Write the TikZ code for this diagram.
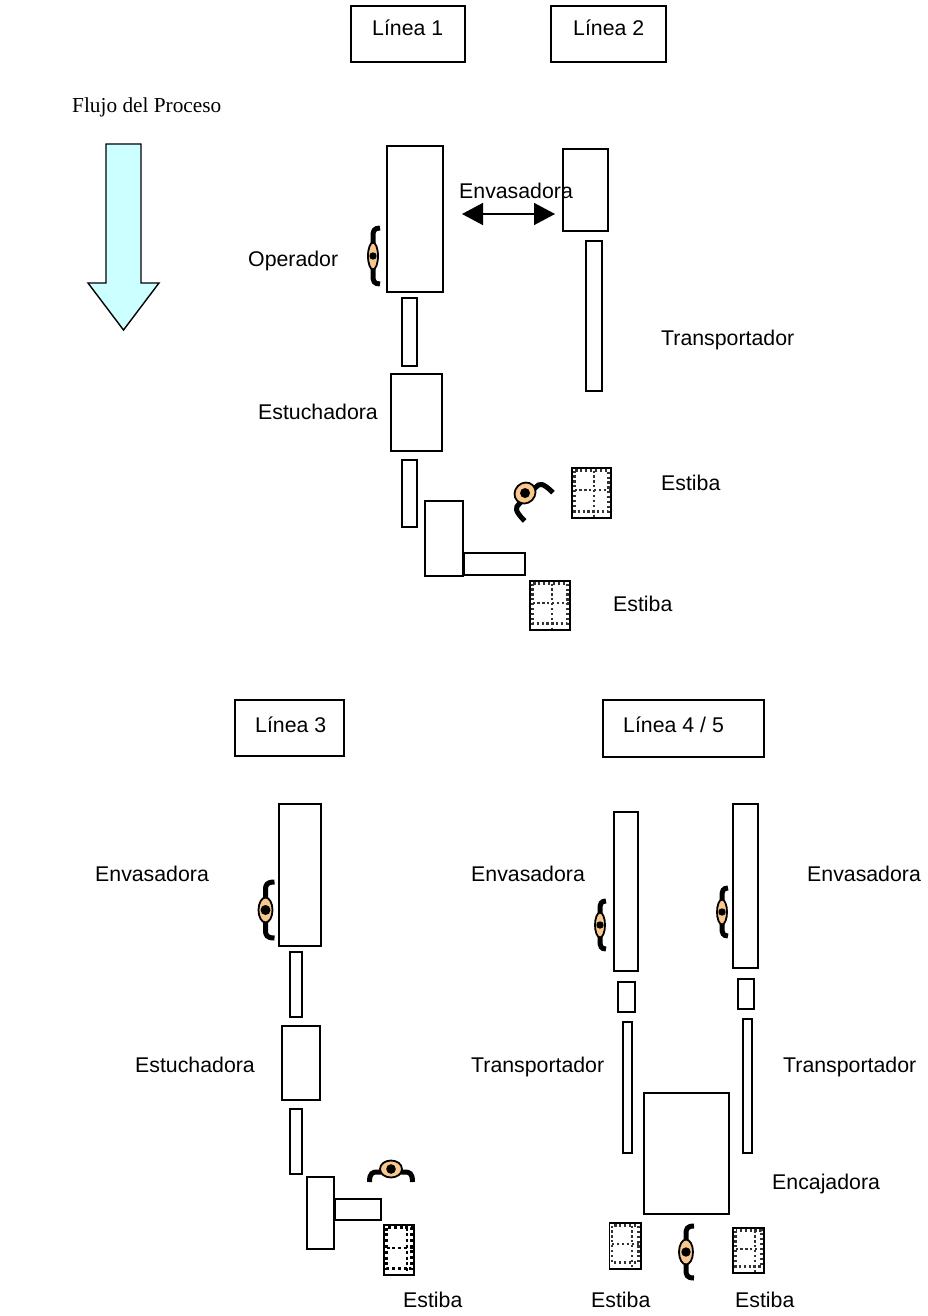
\documentclass[tikz,border=0pt]{standalone}
\usepackage{fontspec}
\setmainfont{Liberation Sans}
\newfontfamily\timesf{Liberation Serif}
\usetikzlibrary{arrows.meta,calc}
\definecolor{peach}{HTML}{F9C88F}
\definecolor{flowc}{HTML}{CCFFFF}
\tikzset{
  x=1pt,y=-1pt,
  lbl/.style={anchor=base west,inner sep=0pt,font=\fontsize{21.3}{25}\selectfont},
  boxn/.style={draw=black,line width=1.7pt,fill=white,inner sep=0pt,outer sep=0pt},
  dots/.style={draw=black!80,line width=2.2pt,dash pattern=on 2.2pt off 2.7pt},
  hardots/.style={draw=black,line width=2.8pt,dash pattern=on 3pt off 2.8pt},
  brace/.style={draw=black,line width=5pt,line cap=butt,fill=none},
}
% \bx{name}{x1}{y1}{x2}{y2}
\newcommand{\bx}[5]{\node[boxn,minimum width=#4pt-#2pt,minimum height=#5pt-#3pt] (#1) at ({(#2+#4)/2},{(#3+#5)/2}) {};}
% \estiba{name}{x1}{y1}{x2}{y2}{vx}{hy}{style}
\newcommand{\estiba}[8]{%
  \bx{#1}{#2}{#3}{#4}{#5}
  \draw[#8] ({#2+2.5},{#3+2.5}) rectangle ({#4-2.5},{#5-6.5});
  \draw[#8] (#6,{#3+2.5}) -- (#6,{#5-1});
  \draw[#8] ({#2+2.5},#7) -- ({#4-1.5},#7);
}
% \opr{x}{y}{rot}{eye half width}{eye half height}{brace half}{end depth}{eye offset}{pupil radius}
\newcommand{\opr}[9]{%
  \begin{scope}[shift={(#1,#2)},rotate=#3]
    \draw[brace] (#7,-#6) .. controls (1,-#6) and (0,{-#6+3}) .. (0,{-#6+8}) -- (0,0);
    \draw[brace] (#7,#6) .. controls (1,#6) and (0,{#6-3}) .. (0,{#6-8}) -- (0,0);
    \draw[draw=black,line width=1.8pt,fill=peach] (#8,0) ellipse [x radius=#4,y radius=#5];
    \fill[black] (#8,0) circle (#9);
  \end{scope}}
\begin{document}
\begin{tikzpicture}
\useasboundingbox (0,0) rectangle (928,1316);
\fill[white] (0,0) rectangle (928,1316);

% Flow arrow
\draw[black,line width=1.4pt,line join=miter,fill=flowc]
  (106,144) -- (141,144) -- (141,283) -- (159,283) -- (123.5,330) -- (88,283) -- (106,283) -- cycle;
\node[lbl,font=\timesf\fontsize{21.3}{25}\selectfont] (flujo) at (72,113) {Flujo del Proceso};

% Titles
\bx{l1}{351}{6}{465}{62}
\bx{l2}{551}{6}{666}{62}
\bx{l3}{235}{700}{344}{756}
\bx{l45}{603}{700}{764}{757}
\node[lbl] (tl1) at (372,36) {Línea 1};
\node[lbl] (tl2) at (573,36) {Línea 2};
\node[lbl] (tl3) at (255,732) {Línea 3};
\node[lbl] (tl45) at (623,732) {Línea 4 / 5};

% Lines 1 and 2
\bx{a1}{387}{146}{443}{292}
\bx{a2}{402}{298}{417}{366}
\bx{a3}{391}{374}{442}{451}
\bx{a4}{402}{460}{417}{527}
\bx{a5}{425}{501}{463}{576}
\bx{a6}{464}{553}{525}{575}
\bx{b1}{563}{149}{608}{231}
\bx{b2}{586}{241}{602}{391}
\estiba{e1}{572}{468}{611}{518}{594}{490}{dots}
\estiba{e2}{530}{581}{570}{630}{552}{603}{dots}
\coordinate (dl) at (462,214);
\coordinate (dr) at (555,214);
\draw[black,line width=1.6pt,{Triangle[length=21pt,width=22pt]}-{Triangle[length=21pt,width=22pt]}] (dl) -- (dr);
\opr{373}{256}{0}{5}{13.5}{28}{7}{0}{3.7}
\opr{527.5}{495.5}{-45}{10}{11}{20}{16}{-3.5}{5}

% Line 3
\bx{c1}{279}{804}{321}{946}
\bx{c2}{290}{952}{302}{1017}
\bx{c3}{282}{1026}{320}{1100}
\bx{c4}{290}{1109}{302}{1174}
\bx{c5}{307}{1177}{334}{1249}
\bx{c6}{335}{1199}{381}{1220}
\estiba{e3}{384}{1225}{414}{1275}{407}{1248}{hardots}
\opr{391}{1172}{-90}{8.5}{11}{21.5}{10}{-3}{4.8}
\opr{265.5}{910}{0}{7}{12.5}{28}{9}{0}{5}

% Lines 4/5
\bx{d1}{614}{812}{638}{971}
\bx{d2}{733}{804}{758}{968}
\bx{d3}{618}{982}{635}{1012}
\bx{d4}{738}{979}{754}{1009}
\bx{d7}{644}{1093}{729}{1214}
\bx{d5}{623}{1022}{632}{1153}
\bx{d6}{743}{1019}{752}{1153}
\estiba{e4}{609.5}{1223}{641}{1269}{632}{1244}{dots}
\estiba{e5}{733}{1228}{764}{1273}{755}{1249}{dots}
\opr{600}{925}{0}{5}{12.5}{24}{6}{0}{3.7}
\opr{722}{912}{0}{5}{12.5}{24}{6}{0}{3.7}
\opr{686}{1252}{0}{7}{12.5}{26}{8}{0}{4.7}

% Labels (drawn above boxes)
\node[lbl] (n1) at (459,198) {Envasadora};
\node[lbl] (n2) at (248,266) {Operador};
\node[lbl] (n3) at (661,345) {Transportador};
\node[lbl] (n4) at (258,419) {Estuchadora};
\node[lbl] (n5) at (661,490) {Estiba};
\node[lbl] (n6) at (613,611) {Estiba};
\node[lbl] (n7) at (95,881) {Envasadora};
\node[lbl] (n8) at (471,881) {Envasadora};
\node[lbl] (n9) at (807,881) {Envasadora};
\node[lbl] (n10) at (135,1072) {Estuchadora};
\node[lbl] (n11) at (471,1072) {Transportador};
\node[lbl] (n12) at (783,1072) {Transportador};
\node[lbl] (n13) at (772,1189) {Encajadora};
\node[lbl] (n14) at (403,1307) {Estiba};
\node[lbl] (n15) at (591,1307) {Estiba};
\node[lbl] (n16) at (735,1307) {Estiba};
\end{tikzpicture}
\end{document}
